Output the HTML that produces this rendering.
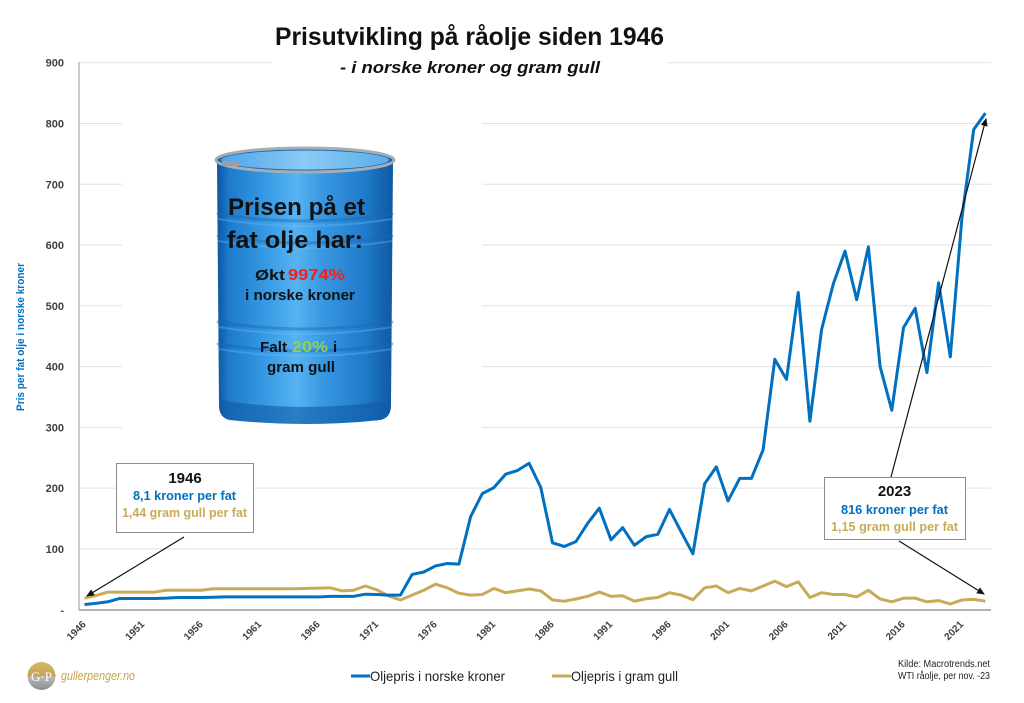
<!DOCTYPE html>
<html><head><meta charset="utf-8"><style>
html,body{margin:0;padding:0;background:#fff;}
svg{display:block;}
text{font-family:"Liberation Sans",Arial,sans-serif;}
</style></head><body>
<svg width="1024" height="703" viewBox="0 0 1024 703" xmlns="http://www.w3.org/2000/svg">
<defs>
<marker id="ah" markerWidth="8" markerHeight="8" refX="7" refY="4" orient="auto" markerUnits="userSpaceOnUse">
<path d="M0,0.5 L8,4 L0,7.5 Z" fill="#111"/>
</marker>
<linearGradient id="bodyG" x1="0" y1="0" x2="1" y2="0">
<stop offset="0" stop-color="#0b56a0"/>
<stop offset="0.07" stop-color="#1d7bcc"/>
<stop offset="0.3" stop-color="#3a9de6"/>
<stop offset="0.45" stop-color="#56b3f1"/>
<stop offset="0.6" stop-color="#3898e2"/>
<stop offset="0.85" stop-color="#1f79c9"/>
<stop offset="1" stop-color="#0e58a2"/>
</linearGradient>
<linearGradient id="lidG" x1="0" y1="0" x2="1" y2="0">
<stop offset="0" stop-color="#4da5e8"/>
<stop offset="0.5" stop-color="#8ccaf4"/>
<stop offset="1" stop-color="#5aaeea"/>
</linearGradient>
<linearGradient id="logoG" x1="0" y1="0" x2="0" y2="1">
<stop offset="0" stop-color="#d9b765"/>
<stop offset="0.5" stop-color="#c2a35a"/>
<stop offset="0.55" stop-color="#b9b9b9"/>
<stop offset="1" stop-color="#8a8a8a"/>
</linearGradient>
</defs>

<!-- gridlines -->
<g stroke="#e2e2e2" stroke-width="1">
<line x1="79" y1="62.7" x2="272" y2="62.7"/>
<line x1="667" y1="62.7" x2="991" y2="62.7"/>
<line x1="79" y1="123.5" x2="122" y2="123.5"/><line x1="482" y1="123.5" x2="991" y2="123.5"/>
<line x1="79" y1="184.3" x2="122" y2="184.3"/><line x1="482" y1="184.3" x2="991" y2="184.3"/>
<line x1="79" y1="245.0" x2="122" y2="245.0"/><line x1="482" y1="245.0" x2="991" y2="245.0"/>
<line x1="79" y1="305.8" x2="122" y2="305.8"/><line x1="482" y1="305.8" x2="991" y2="305.8"/>
<line x1="79" y1="366.6" x2="122" y2="366.6"/><line x1="482" y1="366.6" x2="991" y2="366.6"/>
<line x1="79" y1="427.4" x2="122" y2="427.4"/><line x1="482" y1="427.4" x2="991" y2="427.4"/>
<line x1="79" y1="488.1" x2="991" y2="488.1"/>
<line x1="79" y1="548.9" x2="991" y2="548.9"/>
</g>

<!-- axes -->
<line x1="79" y1="62" x2="79" y2="610" stroke="#9a9a9a" stroke-width="1"/>
<line x1="79" y1="610" x2="991" y2="610" stroke="#9a9a9a" stroke-width="1.5"/>

<!-- y tick labels -->
<g font-size="11" font-weight="bold" fill="#404040" text-anchor="end">
<text x="64" y="66.5">900</text>
<text x="64" y="127.5">800</text>
<text x="64" y="188.3">700</text>
<text x="64" y="249">600</text>
<text x="64" y="309.8">500</text>
<text x="64" y="370.6">400</text>
<text x="64" y="431.4">300</text>
<text x="64" y="492.1">200</text>
<text x="64" y="552.9">100</text>
<text x="64" y="614">-</text>
</g>

<!-- y axis title -->
<text x="24" y="337" transform="rotate(-90 24 337)" text-anchor="middle" font-size="11" font-weight="bold" fill="#0070C0" textLength="148" lengthAdjust="spacingAndGlyphs">Pris per fat olje i norske kroner</text>

<!-- x labels -->
<g font-size="10" font-weight="bold" fill="#404040" text-anchor="end">
<text x="86.5" y="625" transform="rotate(-45 86.5 625)">1946</text>
<text x="145" y="625" transform="rotate(-45 145 625)">1951</text>
<text x="203.5" y="625" transform="rotate(-45 203.5 625)">1956</text>
<text x="262" y="625" transform="rotate(-45 262 625)">1961</text>
<text x="320.5" y="625" transform="rotate(-45 320.5 625)">1966</text>
<text x="379" y="625" transform="rotate(-45 379 625)">1971</text>
<text x="437.5" y="625" transform="rotate(-45 437.5 625)">1976</text>
<text x="496" y="625" transform="rotate(-45 496 625)">1981</text>
<text x="554.5" y="625" transform="rotate(-45 554.5 625)">1986</text>
<text x="613" y="625" transform="rotate(-45 613 625)">1991</text>
<text x="671.5" y="625" transform="rotate(-45 671.5 625)">1996</text>
<text x="730" y="625" transform="rotate(-45 730 625)">2001</text>
<text x="788.5" y="625" transform="rotate(-45 788.5 625)">2006</text>
<text x="847" y="625" transform="rotate(-45 847 625)">2011</text>
<text x="905.5" y="625" transform="rotate(-45 905.5 625)">2016</text>
<text x="964" y="625" transform="rotate(-45 964 625)">2021</text>
</g>

<!-- data series -->
<g transform="translate(84.5,609.7) scale(11.7,-0.6078)">
<polyline fill="none" stroke="#C8AB58" stroke-width="3" vector-effect="non-scaling-stroke" stroke-linejoin="round" points="0,19 1,23.5 2,29 3,29 4,29 5,29 6,29 7,32 8,32 9,32 10,32 11,34.5 12,34.5 13,34.5 14,34.5 15,34.5 16,34.5 17,34.5 18,34.5 19,35 20,35.5 21,36 22,31 23,32 24,39 25,32.5 26,22.5 27,16 28,24 29,32 30,42 31,36 32,27 33,24 34,25 35,35 36,28 37,31 38,34 39,31 40,16 41,14 42,17.6 43,22 44,29 45,22 46,23 47,14 48,18 49,20 50,28 51,24 52,16.5 53,36 54,39 55,28 56,35 57,31 58,39 59,47 60,38 61,46 62,20 63,28 64,25 65,25 66,21 67,32 68,17.6 69,13 70,19 71,19 72,13 73,15 74,9.4 75,16 76,17 77,14"/>
<polyline fill="none" stroke="#0070C0" stroke-width="3" vector-effect="non-scaling-stroke" stroke-linejoin="round" points="0,8.5 1,10.5 2,13 3,18.5 4,18.5 5,18.5 6,18.5 7,19 8,20 9,20 10,20 11,20.5 12,21 13,21 14,21 15,21 16,21 17,21 18,21 19,21 20,21 21,22 22,22 23,22 24,25.5 25,25 26,24 27,24 28,58 29,62 30,72 31,76 32,75 33,153 34,191 35,201 36,223 37,229 38,241 39,201 40,110 41,104 42,112 43,142 44,167 45,115 46,135 47,106 48,120 49,124 50,165 51,128 52,92 53,207 54,235 55,179 56,216 57,216 58,263 59,412 60,379 61,522 62,310 63,461 64,536 65,590 66,510 67,597 68,400 69,328 70,464 71,496 72,390 73,538 74,416 75,646 76,790 77,817"/>
</g>

<!-- title -->
<text x="275" y="45" font-size="25" font-weight="bold" fill="#111" textLength="389" lengthAdjust="spacingAndGlyphs">Prisutvikling på råolje siden 1946</text>
<text x="340" y="73" font-size="17" font-weight="bold" font-style="italic" fill="#111" textLength="260" lengthAdjust="spacingAndGlyphs">- i norske kroner og gram gull</text>

<!-- barrel -->
<g>
<path d="M217,162 L219,405 Q219,418 230,420 Q305,428 380,420 Q391,418 391,405 L393,162 Z" fill="url(#bodyG)"/>
<path d="M219,400 Q305,414 391,400 L391,405 Q391,418 380,420 Q305,428 230,420 Q219,418 219,405 Z" fill="#0f5aa5" opacity="0.6"/>
<g fill="none" stroke-linecap="round">
<path d="M218,214 Q305,228 392,214" stroke="#1a69b6" stroke-width="3" opacity="0.45"/>
<path d="M218,219 Q305,233 392,219" stroke="#6cc0f5" stroke-width="2" opacity="0.35"/>
<path d="M218,236 Q305,250 392,236" stroke="#1a69b6" stroke-width="3" opacity="0.45"/>
<path d="M218,241 Q305,255 392,241" stroke="#6cc0f5" stroke-width="2" opacity="0.35"/>
<path d="M218,322 Q305,336 392,322" stroke="#1a69b6" stroke-width="3" opacity="0.45"/>
<path d="M218,327 Q305,341 392,327" stroke="#6cc0f5" stroke-width="2" opacity="0.35"/>
<path d="M218,344 Q305,358 392,344" stroke="#1a69b6" stroke-width="3" opacity="0.45"/>
<path d="M218,349 Q305,363 392,349" stroke="#6cc0f5" stroke-width="2" opacity="0.35"/>
</g>
<ellipse cx="305" cy="160" rx="89" ry="12" fill="#1566b4"/>
<ellipse cx="305" cy="160" rx="84" ry="9.5" fill="url(#lidG)"/>
<ellipse cx="305" cy="160" rx="89" ry="12" fill="none" stroke="#a8adb2" stroke-width="3"/>
<rect x="222" y="161" width="18" height="5" rx="1.5" fill="#9aa0a6"/>
</g>

<!-- barrel text -->
<g font-weight="bold" fill="#111">
<text x="228" y="215" font-size="24" textLength="137" lengthAdjust="spacingAndGlyphs">Prisen på et</text>
<text x="227" y="248" font-size="24" textLength="136" lengthAdjust="spacingAndGlyphs">fat olje har:</text>
<text x="255" y="280" font-size="15" textLength="30" lengthAdjust="spacingAndGlyphs">Økt</text>
<text x="288" y="280" font-size="16" fill="#ff1a1a" textLength="57" lengthAdjust="spacingAndGlyphs">9974%</text>
<text x="245" y="300" font-size="15" textLength="110" lengthAdjust="spacingAndGlyphs">i norske kroner</text>
<text x="260" y="352" font-size="15" textLength="27" lengthAdjust="spacingAndGlyphs">Falt</text>
<text x="292" y="352" font-size="16" fill="#92d050" textLength="36" lengthAdjust="spacingAndGlyphs">20%</text>
<text x="333" y="352" font-size="15">i</text>
<text x="267" y="372" font-size="15" textLength="68" lengthAdjust="spacingAndGlyphs">gram gull</text>
</g>

<!-- arrows -->
<g stroke="#111" stroke-width="1.2" fill="none">
<line x1="184" y1="537" x2="87" y2="596" marker-end="url(#ah)"/>
<line x1="891" y1="477" x2="986" y2="119" marker-end="url(#ah)"/>
<line x1="899" y1="541" x2="984" y2="594" marker-end="url(#ah)"/>
</g>

<!-- annotation boxes -->
<rect x="116.5" y="463.5" width="137" height="69" fill="#fff" stroke="#8c8c8c" stroke-width="1"/>
<g font-weight="bold" text-anchor="middle">
<text x="185" y="483" font-size="15" fill="#111">1946</text>
<text x="184.5" y="500" font-size="13" fill="#0070C0" textLength="103" lengthAdjust="spacingAndGlyphs">8,1 kroner per fat</text>
<text x="184.5" y="517" font-size="13" fill="#C8AB58" textLength="125" lengthAdjust="spacingAndGlyphs">1,44 gram gull per fat</text>
</g>
<rect x="824.5" y="477.5" width="141" height="62" fill="#fff" stroke="#8c8c8c" stroke-width="1"/>
<g font-weight="bold" text-anchor="middle">
<text x="894.5" y="496" font-size="15" fill="#111">2023</text>
<text x="894.5" y="514" font-size="13" fill="#0070C0" textLength="107" lengthAdjust="spacingAndGlyphs">816 kroner per fat</text>
<text x="894.5" y="531" font-size="13" fill="#C8AB58" textLength="127" lengthAdjust="spacingAndGlyphs">1,15 gram gull per fat</text>
</g>

<!-- legend -->
<line x1="351" y1="676" x2="370" y2="676" stroke="#0070C0" stroke-width="3"/>
<text x="370" y="681" font-size="14" fill="#222" textLength="135" lengthAdjust="spacingAndGlyphs">Oljepris i norske kroner</text>
<line x1="552" y1="676" x2="571" y2="676" stroke="#C8AB58" stroke-width="3"/>
<text x="571" y="681" font-size="14" fill="#222" textLength="107" lengthAdjust="spacingAndGlyphs">Oljepris i gram gull</text>

<!-- source -->
<text x="898" y="667" font-size="10" fill="#222" textLength="92" lengthAdjust="spacingAndGlyphs">Kilde: Macrotrends.net</text>
<text x="898" y="679" font-size="10" fill="#222" textLength="92" lengthAdjust="spacingAndGlyphs">WTI råolje, per nov. -23</text>

<!-- logo -->
<circle cx="41.5" cy="676" r="14" fill="url(#logoG)"/>
<text x="41.5" y="681" font-size="13" text-anchor="middle" fill="#fff" style="font-family:'Liberation Serif',serif">G·P</text>
<text x="61" y="680" font-size="13" font-style="italic" fill="#C8A44A" textLength="74" lengthAdjust="spacingAndGlyphs">gullerpenger.no</text>
</svg>
</body></html>
